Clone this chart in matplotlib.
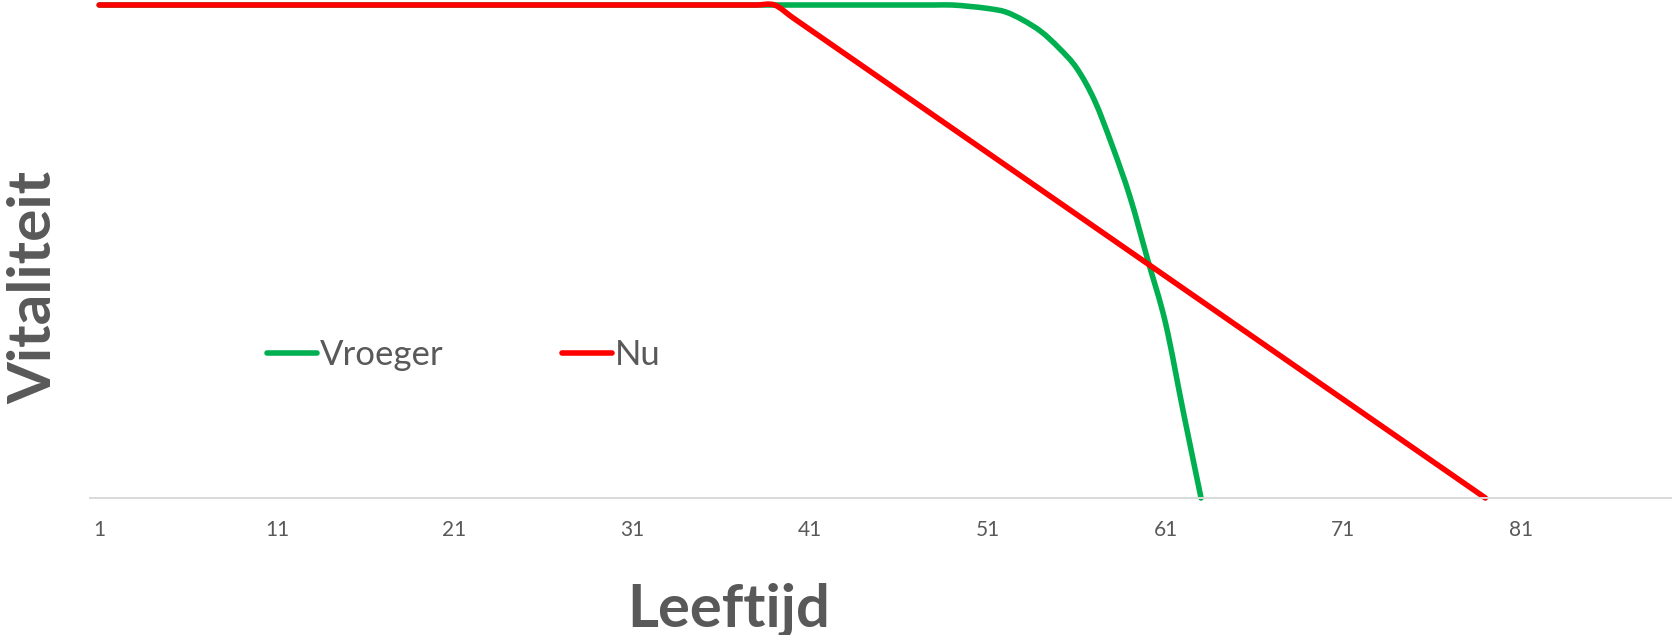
import numpy as np
import matplotlib
matplotlib.use('Agg')
import matplotlib.pyplot as plt
from matplotlib.path import Path
from matplotlib.patches import PathPatch
from matplotlib.lines import Line2D

plt.rcParams['font.family'] = ['Lato', 'DejaVu Sans']

# --- data ---
leeftijd = list(range(1, 90))
tick_ages = [1, 11, 21, 31, 41, 51, 61, 71, 81]

vroeger = [100.0] * 49 + [99.7, 99.3, 98.6, 96.9, 94.6, 91.3, 87.2, 80.7,
                          71.5, 61.1, 48.3, 35.5, 17.5, 0.0]
nu = [100.0] * 39 + [97.5, 95.0, 92.5, 90.0, 87.5, 85.0, 82.5, 80.0, 77.5, 75.0,
                     72.5, 70.0, 67.5, 65.0, 62.5, 60.0, 57.5, 55.0, 52.5, 50.0,
                     47.5, 45.0, 42.5, 40.0, 37.5, 35.0, 32.5, 30.0, 27.5, 25.0,
                     22.5, 20.0, 17.5, 15.0, 12.5, 10.0, 7.5, 5.0, 2.5, 0.0]

green = '#00B050'
red = '#FF0000'
grey_text = '#595959'


def smooth_path(x, y):
    # Excel-like smoothed line: cubic bezier through every point
    pts = np.column_stack([x, y]).astype(float)
    n = len(pts)
    verts = [pts[0]]
    codes = [Path.MOVETO]
    for i in range(n - 1):
        p0 = pts[max(i - 1, 0)]
        p1 = pts[i]
        p2 = pts[i + 1]
        p3 = pts[min(i + 2, n - 1)]
        verts += [p1 + (p2 - p0) / 6, p2 - (p3 - p1) / 6, p2]
        codes += [Path.CURVE4] * 3
    return Path(verts, codes)


fig = plt.figure(figsize=(16.72, 6.35), dpi=100)
ax = fig.add_axes([90.3 / 1672, 1 - 498 / 635, 1 - 90.3 / 1672, 493 / 635])

lw = 4.0
for vals, col in [(vroeger, green), (nu, red)]:
    p = PathPatch(smooth_path(leeftijd[:len(vals)], vals), facecolor='none',
                  edgecolor=col, lw=lw, capstyle='round', joinstyle='round',
                  clip_on=False)
    ax.add_patch(p)

ax.set_xlim(0.5, 89.5)
ax.set_ylim(0, 100)
ax.set_xticks(tick_ages)
ax.set_xticklabels([str(t) for t in tick_ages])
ax.set_yticks([])
for s in ['top', 'right', 'left']:
    ax.spines[s].set_visible(False)
ax.spines['bottom'].set_color('#d9d9d9')
ax.spines['bottom'].set_linewidth(1.4)
ax.tick_params(axis='x', length=0, labelsize=15, colors=grey_text, pad=16)

handles = [Line2D([], [], color=green, lw=lw, solid_capstyle='round'),
           Line2D([], [], color=red, lw=lw, solid_capstyle='round')]
ax.legend(handles, ['Vroeger', 'Nu'], ncol=2, frameon=False, loc='center left',
          bbox_to_anchor=(267 / 1672, 1 - 355 / 635), bbox_transform=fig.transFigure,
          fontsize=25, labelcolor=grey_text, handlelength=1.45, handletextpad=0.08,
          columnspacing=3.4, borderpad=0, borderaxespad=0)

fig.text(729 / 1672, 1 - 627 / 635, 'Leeftijd', ha='center', va='baseline',
         fontsize=43, fontweight='bold', color=grey_text)
fig.text(51 / 1672, 1 - 287 / 635, 'Vitaliteit', rotation=90, rotation_mode='anchor',
         ha='center', va='baseline', fontsize=43.5, fontweight='bold', color=grey_text)

fig.savefig('out.png', dpi=100)
